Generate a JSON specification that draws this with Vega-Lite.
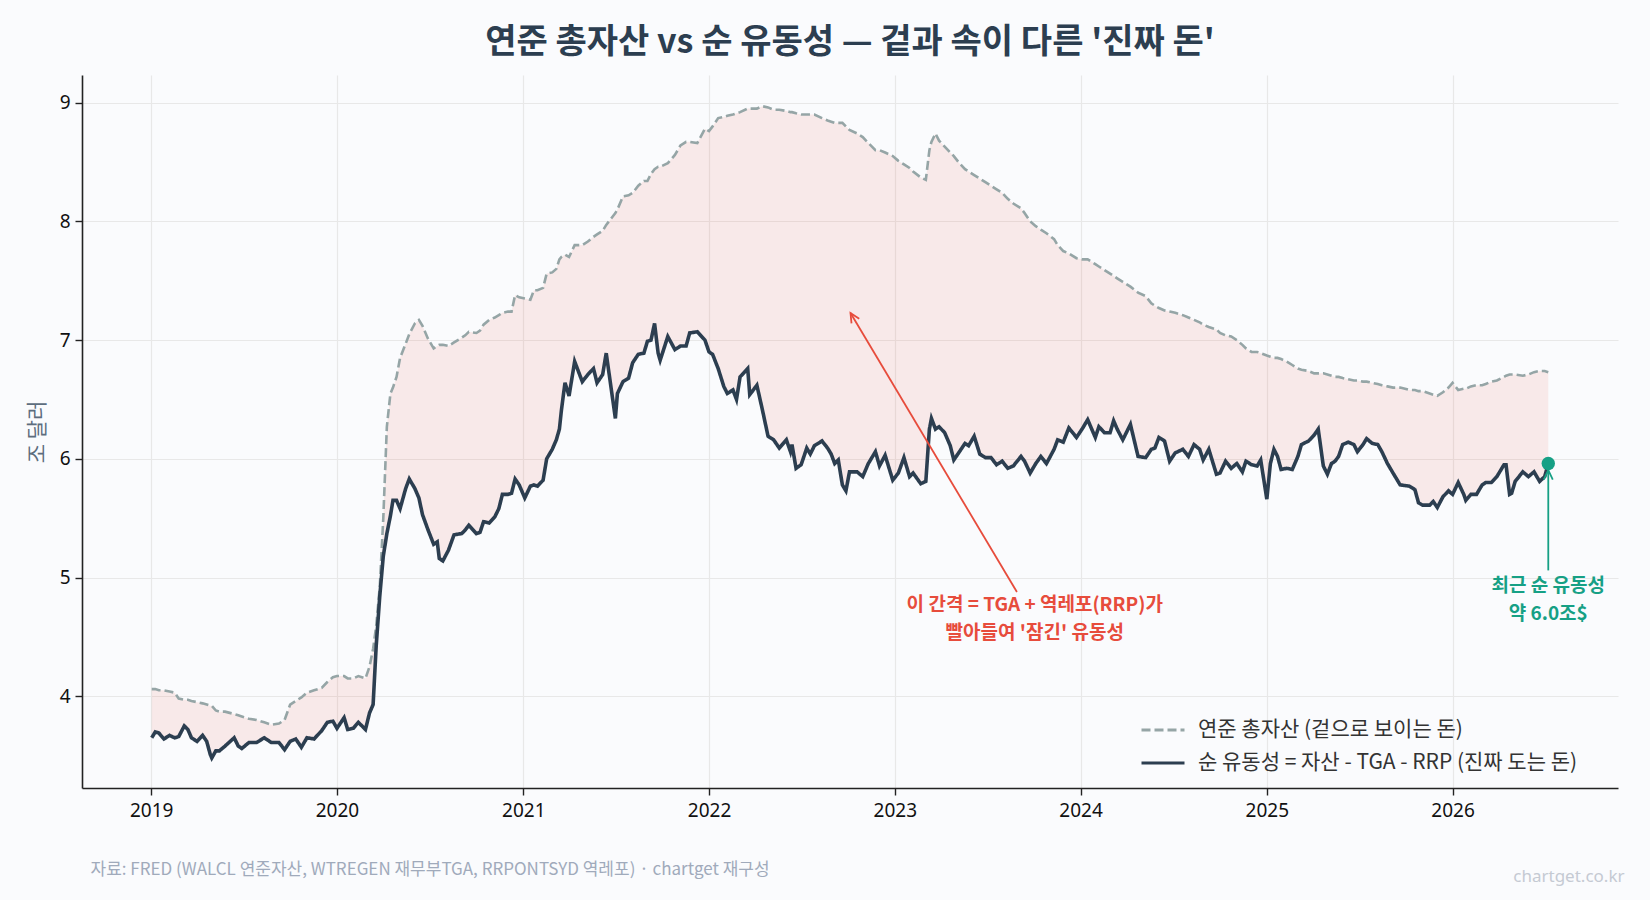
{
  "$schema": "https://vega.github.io/schema/vega-lite/v6.json",
  "width": 1536,
  "height": 713,
  "autosize": {"type": "none"},
  "padding": {"left": 82, "top": 75, "right": 32, "bottom": 112},
  "background": "#fafbfd",
  "title": {
    "text": "연준 총자산 vs 순 유동성 — 겉과 속이 다른 '진짜 돈'",
    "font": "Noto Sans CJK KR",
    "fontSize": 34,
    "fontWeight": "bold",
    "color": "#2c3e50",
    "anchor": "middle",
    "offset": 15
  },
  "config": {
    "view": {"stroke": null},
    "axis": {
      "domainColor": "#222222",
      "domainWidth": 1.6,
      "tickColor": "#222222",
      "tickWidth": 1.4,
      "tickSize": 7,
      "gridColor": "#e8e8e8",
      "gridWidth": 1.2,
      "labelFont": "Noto Sans",
      "labelFontSize": 19,
      "labelColor": "#111111",
      "titleFont": "Noto Sans CJK KR",
      "titleFontWeight": "normal"
    }
  },
  "datasets": {
    "liq": [
      {"date":"2019-01-02","assets":4.06,"net":3.65},
      {"date":"2019-01-09","assets":4.06,"net":3.70},
      {"date":"2019-01-16","assets":4.05,"net":3.69},
      {"date":"2019-01-26","assets":4.05,"net":3.64},
      {"date":"2019-02-06","assets":4.04,"net":3.67},
      {"date":"2019-02-16","assets":4.03,"net":3.65},
      {"date":"2019-02-24","assets":3.98,"net":3.66},
      {"date":"2019-03-07","assets":3.97,"net":3.75},
      {"date":"2019-03-14","assets":3.97,"net":3.72},
      {"date":"2019-03-21","assets":3.96,"net":3.65},
      {"date":"2019-04-01","assets":3.95,"net":3.62},
      {"date":"2019-04-12","assets":3.94,"net":3.67},
      {"date":"2019-04-20","assets":3.93,"net":3.62},
      {"date":"2019-04-27","assets":3.92,"net":3.51},
      {"date":"2019-04-30","assets":3.92,"net":3.48},
      {"date":"2019-05-08","assets":3.88,"net":3.54},
      {"date":"2019-05-15","assets":3.87,"net":3.54},
      {"date":"2019-05-26","assets":3.87,"net":3.58},
      {"date":"2019-06-13","assets":3.85,"net":3.65},
      {"date":"2019-06-21","assets":3.84,"net":3.58},
      {"date":"2019-06-28","assets":3.83,"net":3.56},
      {"date":"2019-07-12","assets":3.81,"net":3.61},
      {"date":"2019-07-27","assets":3.80,"net":3.61},
      {"date":"2019-08-11","assets":3.78,"net":3.65},
      {"date":"2019-08-25","assets":3.76,"net":3.61},
      {"date":"2019-09-09","assets":3.77,"net":3.61},
      {"date":"2019-09-20","assets":3.80,"net":3.55},
      {"date":"2019-10-01","assets":3.93,"net":3.62},
      {"date":"2019-10-12","assets":3.96,"net":3.64},
      {"date":"2019-10-23","assets":3.99,"net":3.57},
      {"date":"2019-11-03","assets":4.03,"net":3.65},
      {"date":"2019-11-17","assets":4.05,"net":3.64},
      {"date":"2019-12-02","assets":4.07,"net":3.71},
      {"date":"2019-12-13","assets":4.12,"net":3.78},
      {"date":"2019-12-24","assets":4.16,"net":3.79},
      {"date":"2020-01-01","assets":4.17,"net":3.73},
      {"date":"2020-01-15","assets":4.17,"net":3.82},
      {"date":"2020-01-22","assets":4.15,"net":3.72},
      {"date":"2020-02-02","assets":4.15,"net":3.73},
      {"date":"2020-02-12","assets":4.17,"net":3.78},
      {"date":"2020-02-26","assets":4.15,"net":3.72},
      {"date":"2020-03-05","assets":4.25,"net":3.86},
      {"date":"2020-03-12","assets":4.40,"net":3.93},
      {"date":"2020-03-18","assets":4.59,"net":4.42},
      {"date":"2020-03-25","assets":4.92,"net":4.84},
      {"date":"2020-04-01","assets":5.50,"net":5.18},
      {"date":"2020-04-08","assets":6.27,"net":5.37},
      {"date":"2020-04-15","assets":6.55,"net":5.52},
      {"date":"2020-04-20","assets":6.60,"net":5.65},
      {"date":"2020-04-27","assets":6.69,"net":5.65},
      {"date":"2020-05-04","assets":6.85,"net":5.58},
      {"date":"2020-05-15","assets":6.97,"net":5.75},
      {"date":"2020-05-22","assets":7.05,"net":5.83},
      {"date":"2020-06-02","assets":7.14,"net":5.75},
      {"date":"2020-06-10","assets":7.17,"net":5.67},
      {"date":"2020-06-17","assets":7.12,"net":5.53},
      {"date":"2020-06-28","assets":7.01,"net":5.40},
      {"date":"2020-07-09","assets":6.93,"net":5.28},
      {"date":"2020-07-16","assets":6.95,"net":5.30},
      {"date":"2020-07-20","assets":6.96,"net":5.16},
      {"date":"2020-07-27","assets":6.96,"net":5.14},
      {"date":"2020-08-07","assets":6.95,"net":5.23},
      {"date":"2020-08-18","assets":6.98,"net":5.36},
      {"date":"2020-09-02","assets":7.02,"net":5.37},
      {"date":"2020-09-09","assets":7.04,"net":5.40},
      {"date":"2020-09-16","assets":7.07,"net":5.44},
      {"date":"2020-10-01","assets":7.06,"net":5.37},
      {"date":"2020-10-08","assets":7.08,"net":5.38},
      {"date":"2020-10-15","assets":7.13,"net":5.47},
      {"date":"2020-10-26","assets":7.17,"net":5.46},
      {"date":"2020-11-06","assets":7.19,"net":5.51},
      {"date":"2020-11-14","assets":7.21,"net":5.58},
      {"date":"2020-11-21","assets":7.23,"net":5.70},
      {"date":"2020-12-02","assets":7.24,"net":5.70},
      {"date":"2020-12-09","assets":7.24,"net":5.71},
      {"date":"2020-12-16","assets":7.38,"net":5.83},
      {"date":"2020-12-24","assets":7.36,"net":5.78},
      {"date":"2021-01-04","assets":7.35,"net":5.67},
      {"date":"2021-01-15","assets":7.34,"net":5.77},
      {"date":"2021-01-22","assets":7.42,"net":5.78},
      {"date":"2021-01-29","assets":7.42,"net":5.77},
      {"date":"2021-02-09","assets":7.44,"net":5.82},
      {"date":"2021-02-16","assets":7.56,"net":6.00},
      {"date":"2021-02-27","assets":7.57,"net":6.08},
      {"date":"2021-03-07","assets":7.60,"net":6.16},
      {"date":"2021-03-13","assets":7.68,"net":6.25},
      {"date":"2021-03-17","assets":7.70,"net":6.41},
      {"date":"2021-03-24","assets":7.72,"net":6.64},
      {"date":"2021-04-01","assets":7.70,"net":6.53},
      {"date":"2021-04-12","assets":7.80,"net":6.82},
      {"date":"2021-04-27","assets":7.80,"net":6.65},
      {"date":"2021-05-08","assets":7.83,"net":6.71},
      {"date":"2021-05-19","assets":7.87,"net":6.76},
      {"date":"2021-05-26","assets":7.89,"net":6.64},
      {"date":"2021-06-06","assets":7.92,"net":6.71},
      {"date":"2021-06-13","assets":7.97,"net":6.89},
      {"date":"2021-07-01","assets":8.07,"net":6.34},
      {"date":"2021-07-05","assets":8.10,"net":6.55},
      {"date":"2021-07-16","assets":8.21,"net":6.65},
      {"date":"2021-07-27","assets":8.22,"net":6.68},
      {"date":"2021-08-04","assets":8.24,"net":6.81},
      {"date":"2021-08-15","assets":8.30,"net":6.88},
      {"date":"2021-08-26","assets":8.34,"net":6.89},
      {"date":"2021-09-02","assets":8.34,"net":6.99},
      {"date":"2021-09-09","assets":8.40,"net":7.00},
      {"date":"2021-09-16","assets":8.44,"net":7.14},
      {"date":"2021-09-23","assets":8.46,"net":6.89},
      {"date":"2021-09-27","assets":8.46,"net":6.83},
      {"date":"2021-10-12","assets":8.49,"net":7.03},
      {"date":"2021-10-26","assets":8.56,"net":6.92},
      {"date":"2021-11-06","assets":8.64,"net":6.95},
      {"date":"2021-11-17","assets":8.67,"net":6.95},
      {"date":"2021-11-24","assets":8.67,"net":7.06},
      {"date":"2021-12-09","assets":8.66,"net":7.07},
      {"date":"2021-12-24","assets":8.78,"net":7.00},
      {"date":"2022-01-01","assets":8.76,"net":6.90},
      {"date":"2022-01-08","assets":8.80,"net":6.88},
      {"date":"2022-01-19","assets":8.87,"net":6.76},
      {"date":"2022-01-30","assets":8.88,"net":6.61},
      {"date":"2022-02-06","assets":8.89,"net":6.55},
      {"date":"2022-02-17","assets":8.90,"net":6.58},
      {"date":"2022-02-24","assets":8.91,"net":6.50},
      {"date":"2022-03-03","assets":8.92,"net":6.69},
      {"date":"2022-03-18","assets":8.95,"net":6.76},
      {"date":"2022-03-22","assets":8.95,"net":6.54},
      {"date":"2022-04-05","assets":8.95,"net":6.62},
      {"date":"2022-04-16","assets":8.97,"net":6.41},
      {"date":"2022-04-27","assets":8.96,"net":6.19},
      {"date":"2022-05-08","assets":8.94,"net":6.16},
      {"date":"2022-05-19","assets":8.94,"net":6.09},
      {"date":"2022-06-02","assets":8.93,"net":6.16},
      {"date":"2022-06-10","assets":8.92,"net":6.06},
      {"date":"2022-06-13","assets":8.92,"net":6.12},
      {"date":"2022-06-21","assets":8.91,"net":5.92},
      {"date":"2022-07-01","assets":8.90,"net":5.95},
      {"date":"2022-07-12","assets":8.90,"net":6.09},
      {"date":"2022-07-19","assets":8.90,"net":6.04},
      {"date":"2022-07-27","assets":8.90,"net":6.11},
      {"date":"2022-08-11","assets":8.87,"net":6.15},
      {"date":"2022-08-22","assets":8.85,"net":6.09},
      {"date":"2022-08-29","assets":8.84,"net":6.04},
      {"date":"2022-09-05","assets":8.83,"net":5.96},
      {"date":"2022-09-12","assets":8.83,"net":5.99},
      {"date":"2022-09-20","assets":8.83,"net":5.78},
      {"date":"2022-09-27","assets":8.80,"net":5.73},
      {"date":"2022-10-04","assets":8.77,"net":5.89},
      {"date":"2022-10-19","assets":8.74,"net":5.89},
      {"date":"2022-10-30","assets":8.71,"net":5.85},
      {"date":"2022-11-10","assets":8.66,"net":5.96},
      {"date":"2022-11-24","assets":8.60,"net":6.06},
      {"date":"2022-12-02","assets":8.60,"net":5.94},
      {"date":"2022-12-13","assets":8.58,"net":6.03},
      {"date":"2022-12-28","assets":8.55,"net":5.82},
      {"date":"2023-01-08","assets":8.51,"net":5.88},
      {"date":"2023-01-19","assets":8.48,"net":6.01},
      {"date":"2023-01-30","assets":8.45,"net":5.85},
      {"date":"2023-02-06","assets":8.42,"net":5.88},
      {"date":"2023-02-21","assets":8.37,"net":5.79},
      {"date":"2023-03-03","assets":8.35,"net":5.81},
      {"date":"2023-03-10","assets":8.60,"net":6.25},
      {"date":"2023-03-14","assets":8.67,"net":6.34},
      {"date":"2023-03-22","assets":8.74,"net":6.25},
      {"date":"2023-03-29","assets":8.68,"net":6.27},
      {"date":"2023-04-09","assets":8.63,"net":6.22},
      {"date":"2023-04-20","assets":8.58,"net":6.11},
      {"date":"2023-04-27","assets":8.55,"net":5.99},
      {"date":"2023-05-08","assets":8.49,"net":6.06},
      {"date":"2023-05-19","assets":8.44,"net":6.13},
      {"date":"2023-05-26","assets":8.42,"net":6.11},
      {"date":"2023-06-06","assets":8.39,"net":6.19},
      {"date":"2023-06-17","assets":8.36,"net":6.04},
      {"date":"2023-06-28","assets":8.33,"net":6.01},
      {"date":"2023-07-09","assets":8.30,"net":6.01},
      {"date":"2023-07-20","assets":8.27,"net":5.95},
      {"date":"2023-07-31","assets":8.24,"net":5.98},
      {"date":"2023-08-11","assets":8.19,"net":5.92},
      {"date":"2023-08-22","assets":8.15,"net":5.94},
      {"date":"2023-09-06","assets":8.11,"net":6.02},
      {"date":"2023-09-13","assets":8.07,"net":5.98},
      {"date":"2023-09-24","assets":8.00,"net":5.88},
      {"date":"2023-10-05","assets":7.96,"net":5.96},
      {"date":"2023-10-15","assets":7.93,"net":6.02},
      {"date":"2023-10-26","assets":7.90,"net":5.96},
      {"date":"2023-11-10","assets":7.85,"net":6.08},
      {"date":"2023-11-17","assets":7.80,"net":6.16},
      {"date":"2023-11-28","assets":7.75,"net":6.14},
      {"date":"2023-12-09","assets":7.73,"net":6.26},
      {"date":"2023-12-24","assets":7.69,"net":6.18},
      {"date":"2024-01-04","assets":7.68,"net":6.25},
      {"date":"2024-01-15","assets":7.68,"net":6.33},
      {"date":"2024-01-30","assets":7.64,"net":6.18},
      {"date":"2024-02-06","assets":7.62,"net":6.27},
      {"date":"2024-02-17","assets":7.59,"net":6.22},
      {"date":"2024-02-28","assets":7.56,"net":6.22},
      {"date":"2024-03-06","assets":7.54,"net":6.32},
      {"date":"2024-03-13","assets":7.52,"net":6.25},
      {"date":"2024-03-24","assets":7.49,"net":6.16},
      {"date":"2024-04-08","assets":7.45,"net":6.29},
      {"date":"2024-04-23","assets":7.40,"net":6.02},
      {"date":"2024-05-08","assets":7.37,"net":6.01},
      {"date":"2024-05-19","assets":7.31,"net":6.08},
      {"date":"2024-05-26","assets":7.29,"net":6.09},
      {"date":"2024-06-03","assets":7.27,"net":6.18},
      {"date":"2024-06-14","assets":7.25,"net":6.15},
      {"date":"2024-06-24","assets":7.24,"net":5.98},
      {"date":"2024-07-05","assets":7.23,"net":6.05},
      {"date":"2024-07-20","assets":7.21,"net":6.08},
      {"date":"2024-07-31","assets":7.19,"net":6.02},
      {"date":"2024-08-11","assets":7.17,"net":6.12},
      {"date":"2024-08-22","assets":7.15,"net":6.08},
      {"date":"2024-08-29","assets":7.13,"net":5.99},
      {"date":"2024-09-09","assets":7.11,"net":6.08},
      {"date":"2024-09-24","assets":7.09,"net":5.87},
      {"date":"2024-10-01","assets":7.06,"net":5.88},
      {"date":"2024-10-12","assets":7.04,"net":5.98},
      {"date":"2024-10-23","assets":7.03,"net":5.92},
      {"date":"2024-11-03","assets":7.00,"net":5.96},
      {"date":"2024-11-14","assets":6.96,"net":5.89},
      {"date":"2024-11-21","assets":6.93,"net":5.98},
      {"date":"2024-12-02","assets":6.90,"net":5.95},
      {"date":"2024-12-13","assets":6.90,"net":5.94},
      {"date":"2024-12-20","assets":6.89,"net":5.99},
      {"date":"2025-01-01","assets":6.87,"net":5.66},
      {"date":"2025-01-08","assets":6.86,"net":5.96},
      {"date":"2025-01-15","assets":6.85,"net":6.08},
      {"date":"2025-01-22","assets":6.85,"net":6.02},
      {"date":"2025-01-29","assets":6.84,"net":5.91},
      {"date":"2025-02-09","assets":6.82,"net":5.92},
      {"date":"2025-02-20","assets":6.79,"net":5.91},
      {"date":"2025-03-03","assets":6.76,"net":6.02},
      {"date":"2025-03-10","assets":6.75,"net":6.12},
      {"date":"2025-03-24","assets":6.74,"net":6.15},
      {"date":"2025-04-04","assets":6.72,"net":6.20},
      {"date":"2025-04-12","assets":6.72,"net":6.25},
      {"date":"2025-04-22","assets":6.72,"net":5.94},
      {"date":"2025-04-30","assets":6.71,"net":5.87},
      {"date":"2025-05-08","assets":6.70,"net":5.96},
      {"date":"2025-05-15","assets":6.69,"net":5.98},
      {"date":"2025-05-22","assets":6.69,"net":6.02},
      {"date":"2025-05-30","assets":6.68,"net":6.12},
      {"date":"2025-06-10","assets":6.67,"net":6.14},
      {"date":"2025-06-21","assets":6.66,"net":6.12},
      {"date":"2025-06-28","assets":6.66,"net":6.06},
      {"date":"2025-07-09","assets":6.65,"net":6.12},
      {"date":"2025-07-16","assets":6.65,"net":6.17},
      {"date":"2025-07-27","assets":6.64,"net":6.13},
      {"date":"2025-08-07","assets":6.63,"net":6.12},
      {"date":"2025-08-15","assets":6.62,"net":6.06},
      {"date":"2025-08-26","assets":6.61,"net":5.96},
      {"date":"2025-09-06","assets":6.60,"net":5.88},
      {"date":"2025-09-20","assets":6.60,"net":5.78},
      {"date":"2025-10-08","assets":6.58,"net":5.77},
      {"date":"2025-10-19","assets":6.58,"net":5.74},
      {"date":"2025-10-26","assets":6.57,"net":5.63},
      {"date":"2025-11-03","assets":6.57,"net":5.61},
      {"date":"2025-11-17","assets":6.55,"net":5.61},
      {"date":"2025-11-24","assets":6.54,"net":5.64},
      {"date":"2025-12-02","assets":6.53,"net":5.59},
      {"date":"2025-12-13","assets":6.56,"net":5.68},
      {"date":"2025-12-24","assets":6.60,"net":5.73},
      {"date":"2026-01-01","assets":6.64,"net":5.70},
      {"date":"2026-01-12","assets":6.58,"net":5.80},
      {"date":"2026-01-23","assets":6.59,"net":5.70},
      {"date":"2026-01-27","assets":6.59,"net":5.65},
      {"date":"2026-02-06","assets":6.61,"net":5.70},
      {"date":"2026-02-17","assets":6.62,"net":5.70},
      {"date":"2026-02-28","assets":6.62,"net":5.78},
      {"date":"2026-03-07","assets":6.63,"net":5.80},
      {"date":"2026-03-18","assets":6.65,"net":5.80},
      {"date":"2026-03-29","assets":6.66,"net":5.85},
      {"date":"2026-04-12","assets":6.69,"net":5.95},
      {"date":"2026-04-16","assets":6.70,"net":5.95},
      {"date":"2026-04-23","assets":6.71,"net":5.70},
      {"date":"2026-04-27","assets":6.71,"net":5.71},
      {"date":"2026-05-04","assets":6.71,"net":5.81},
      {"date":"2026-05-19","assets":6.70,"net":5.89},
      {"date":"2026-05-30","assets":6.71,"net":5.85},
      {"date":"2026-06-10","assets":6.73,"net":5.89},
      {"date":"2026-06-21","assets":6.74,"net":5.81},
      {"date":"2026-07-01","assets":6.74,"net":5.85},
      {"date":"2026-07-08","assets":6.73,"net":5.96}
    ]
  },
  "data": {"name": "liq"},
  "resolve": {"axis": {"y": "independent"}},
  "layer": [
    {
      "mark": {"type": "area", "color": "#e74c3c", "opacity": 0.1, "interpolate": "linear"},
      "encoding": {
        "x": {
          "field": "date",
          "type": "temporal",
          "scale": {
            "type": "utc",
            "domain": [
              {"year": 2018, "month": 8, "date": 18, "utc": true},
              {"year": 2026, "month": 11, "date": 22, "utc": true}
            ]
          },
          "axis": {
            "format": "%Y",
            "tickCount": {"interval": "year", "step": 1},
            "grid": true,
            "labelPadding": 6,
            "title": "자료: FRED (WALCL 연준자산, WTREGEN 재무부TGA, RRPONTSYD 역레포) · chartget 재구성",
            "titleFontSize": 17,
            "titleColor": "#a0aabb",
            "titleAnchor": "start",
            "titleAlign": "left",
            "titleBaseline": "middle",
            "titleX": 8,
            "titleY": 81
          }
        },
        "y": {
          "field": "assets",
          "type": "quantitative",
          "scale": {"domain": [3.227, 9.233], "nice": false, "zero": false},
          "axis": {
            "values": [4, 5, 6, 7, 8, 9],
            "grid": true,
            "labelPadding": 5,
            "title": "조 달러",
            "titleFontSize": 21,
            "titleColor": "#5d6d7e",
            "titlePadding": 12
          }
        },
        "y2": {"field": "net"}
      }
    },
    {
      "mark": {"type": "line", "strokeWidth": 2.6, "interpolate": "linear"},
      "encoding": {
        "x": {"field": "date", "type": "temporal"},
        "y": {"field": "assets", "type": "quantitative", "axis": null},
        "color": {
          "datum": "연준 총자산 (겉으로 보이는 돈)",
          "type": "nominal",
          "scale": {
            "domain": ["연준 총자산 (겉으로 보이는 돈)", "순 유동성 = 자산 - TGA - RRP (진짜 도는 돈)"],
            "range": ["#95a5a6", "#2c3e50"]
          },
          "legend": {
            "orient": "none", "legendX": 1058, "legendY": 632, "title": null,
            "symbolType": "stroke", "symbolSize": 1849, "symbolStrokeWidth": 3,
            "labelFont": "Noto Sans CJK KR", "labelFontSize": 21, "labelColor": "#333333",
            "labelOffset": 12, "labelLimit": 700, "rowPadding": -12
          }
        },
        "strokeDash": {
          "datum": "연준 총자산 (겉으로 보이는 돈)",
          "type": "nominal",
          "scale": {
            "domain": ["연준 총자산 (겉으로 보이는 돈)", "순 유동성 = 자산 - TGA - RRP (진짜 도는 돈)"],
            "range": [[9, 4], [1, 0]]
          },
          "legend": {
            "orient": "none", "legendX": 1058, "legendY": 632, "title": null,
            "symbolType": "stroke", "symbolSize": 1849, "symbolStrokeWidth": 3,
            "labelFont": "Noto Sans CJK KR", "labelFontSize": 21, "labelColor": "#333333",
            "labelOffset": 12, "labelLimit": 700, "rowPadding": -12
          }
        }
      }
    },
    {
      "mark": {"type": "line", "strokeWidth": 3.6, "interpolate": "linear"},
      "encoding": {
        "x": {"field": "date", "type": "temporal"},
        "y": {"field": "net", "type": "quantitative", "axis": null},
        "color": {"datum": "순 유동성 = 자산 - TGA - RRP (진짜 도는 돈)", "type": "nominal"},
        "strokeDash": {"datum": "순 유동성 = 자산 - TGA - RRP (진짜 도는 돈)", "type": "nominal"}
      }
    },
    {
      "data": {"values": [{"from": "2023-08-29", "to": "2022-10-06", "low": 4.878, "high": 7.228}]},
      "mark": {"type": "rule", "color": "#e74c3c", "strokeWidth": 1.8},
      "encoding": {
        "x": {"field": "from", "type": "temporal"},
        "y": {"field": "low", "type": "quantitative", "axis": null},
        "x2": {"field": "to"},
        "y2": {"field": "high"}
      }
    },
    {
      "data": {"values": [{"to": "2022-10-06", "high": 7.228}]},
      "mark": {"type": "point", "shape": "M-0.5,1.05L0,0L0.5,1.05", "filled": false, "stroke": "#e74c3c", "strokeWidth": 1.8, "size": 324, "angle": 329, "opacity": 1},
      "encoding": {
        "x": {"field": "to", "type": "temporal"},
        "y": {"field": "high", "type": "quantitative", "axis": null}
      }
    },
    {
      "data": {"values": [
        {"date": "2023-10-03", "v": 4.771, "note": "이 간격 = TGA + 역레포(RRP)가"},
        {"date": "2023-10-03", "v": 4.535, "note": "빨아들여 '잠긴' 유동성"}
      ]},
      "mark": {"type": "text", "font": "Noto Sans CJK KR", "fontSize": 19, "fontWeight": "bold", "color": "#e74c3c", "align": "center", "baseline": "middle"},
      "encoding": {
        "x": {"field": "date", "type": "temporal"},
        "y": {"field": "v", "type": "quantitative", "axis": null},
        "text": {"field": "note"}
      }
    },
    {
      "data": {"values": [{"date": "2026-07-08", "low": 5.06, "high": 5.905}]},
      "mark": {"type": "rule", "color": "#16a085", "strokeWidth": 1.8},
      "encoding": {
        "x": {"field": "date", "type": "temporal"},
        "y": {"field": "low", "type": "quantitative", "axis": null},
        "y2": {"field": "high"}
      }
    },
    {
      "data": {"values": [{"date": "2026-07-08", "high": 5.905}]},
      "mark": {"type": "point", "shape": "M-0.5,1.05L0,0L0.5,1.05", "filled": false, "stroke": "#16a085", "strokeWidth": 1.8, "size": 324, "angle": 0, "opacity": 1},
      "encoding": {
        "x": {"field": "date", "type": "temporal"},
        "y": {"field": "high", "type": "quantitative", "axis": null}
      }
    },
    {
      "transform": [{"filter": "utcyear(datum.date) == 2026 && utcmonth(datum.date) == 6 && utcdate(datum.date) == 8"}],
      "mark": {"type": "point", "filled": true, "color": "#16a085", "size": 180, "opacity": 1},
      "encoding": {
        "x": {"field": "date", "type": "temporal"},
        "y": {
          "field": "net",
          "type": "quantitative",
          "axis": {
            "orient": "right",
            "domain": false,
            "ticks": false,
            "labels": false,
            "grid": false,
            "title": "chartget.co.kr",
            "titleFont": "Noto Sans",
            "titleFontSize": 17,
            "titleColor": "#c5cad3",
            "titleAngle": 0,
            "titleAlign": "right",
            "titleBaseline": "middle",
            "titleX": 6,
            "titleY": 801
          }
        }
      }
    },
    {
      "data": {"values": [
        {"date": "2026-07-08", "v": 4.930, "note": "최근 순 유동성"},
        {"date": "2026-07-08", "v": 4.694, "note": "약 6.0조$"}
      ]},
      "mark": {"type": "text", "font": "Noto Sans CJK KR", "fontSize": 19, "fontWeight": "bold", "color": "#16a085", "align": "center", "baseline": "middle"},
      "encoding": {
        "x": {"field": "date", "type": "temporal"},
        "y": {"field": "v", "type": "quantitative", "axis": null},
        "text": {"field": "note"}
      }
    }
  ]
}
